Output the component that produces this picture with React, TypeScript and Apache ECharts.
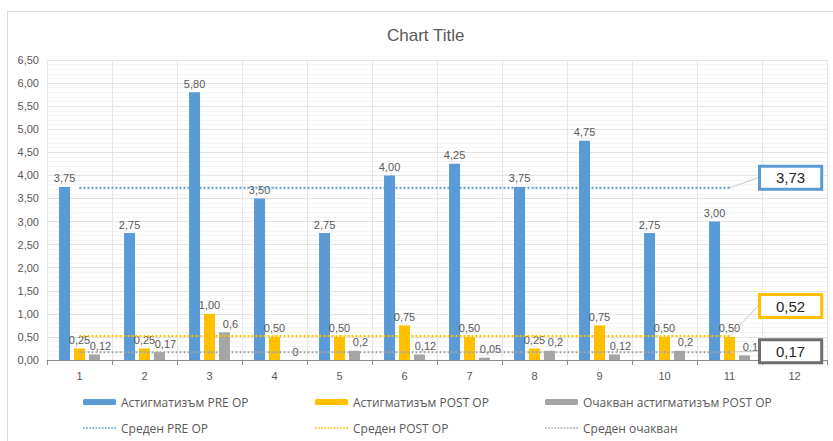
import React, { useEffect, useRef } from "react";
import * as echarts from "echarts";

const categories = ["1", "2", "3", "4", "5", "6", "7", "8", "9", "10", "11", "12"];
const preOp = [3.75, 2.75, 5.8, 3.5, 2.75, 4.0, 4.25, 3.75, 4.75, 2.75, 3.0, null];
const postOp = [0.25, 0.25, 1.0, 0.5, 0.5, 0.75, 0.5, 0.25, 0.75, 0.5, 0.5, null];
const expected = [0.12, 0.17, 0.6, 0, 0.2, 0.12, 0.05, 0.2, 0.12, 0.2, 0.1, null];
const avgPre = [3.73, 3.73, 3.73, 3.73, 3.73, 3.73, 3.73, 3.73, 3.73, 3.73, 3.73, null];
const avgPost = [0.52, 0.52, 0.52, 0.52, 0.52, 0.52, 0.52, 0.52, 0.52, 0.52, 0.52, null];
const avgExpected = [0.17, 0.17, 0.17, 0.17, 0.17, 0.17, 0.17, 0.17, 0.17, 0.17, 0.17, null];

const names = [
  "Астигматизъм PRE OP",
  "Астигматизъм POST OP",
  "Очакван астигматизъм POST OP",
  "Среден PRE OP",
  "Среден POST OP",
  "Среден очакван",
];

const BLUE = "#5b9bd5";
const YELLOW = "#ffc000";
const GRAY = "#a5a5a5";
const TXT = "#595959";
const FONT = "'Liberation Sans', sans-serif";
const LFONT = "'Open Sans', sans-serif";

const comma = (v: number, fixed: boolean) =>
  (fixed ? v.toFixed(2) : String(v)).replace(".", ",");

// dotted legend icon (style only)
let dots = "";
for (let k = 0; k < 11; k++) dots += `M${k * 3},0h1.6v1.6h-1.6z`;
const DOT_ICON = "path://" + dots;

function avgSeries(name: string, data: (number | null)[], color: string, border: string, dy: number) {
  const last = data.reduce((acc: number, v, i) => (v != null ? i : acc), 0);
  return {
    name,
    type: "line",
    symbol: "circle",
    symbolSize: 1,
    showSymbol: true,
    showAllSymbol: true,
    lineStyle: { color, width: 2, type: "dotted" },
    itemStyle: { color },
    z: 5,
    labelLayout: { dy },
    labelLine: { show: true, lineStyle: { color: "#c8c8c8", width: 1 } },
    data: data.map((v, i) =>
      i === last
        ? {
            value: v,
            label: {
              show: true,
              position: "right",
              distance: 31,
              formatter: (p: any) => comma(p.value, true),
              fontSize: 15,
              fontFamily: FONT,
              color: "#262626",
              backgroundColor: "#ffffff",
              borderColor: border,
              borderWidth: 3,
              padding: [3, 15, 2, 15],
            },
          }
        : v
    ),
  };
}

export default function App() {
  const ref = useRef<HTMLDivElement>(null);
  useEffect(() => {
    if (!ref.current) return;
    const chart = echarts.init(ref.current, undefined, { renderer: "svg" });
    const barLabel = (fixed: boolean) => ({
      show: true,
      position: "top",
      distance: 3,
      color: TXT,
      fontSize: 11,
      fontFamily: FONT,
      formatter: (p: any) => (p.value == null ? "" : comma(p.value, fixed)),
    });
    const legendPos = [
      [83, 396],
      [315, 396],
      [545, 396],
      [83, 422],
      [315, 422],
      [545, 422],
    ];
    chart.setOption({
      animation: false,
      title: {
        text: "Chart Title",
        left: 382,
        top: 22,
        textStyle: { fontSize: 17, fontWeight: "normal", color: TXT, fontFamily: FONT },
      },
      legend: names.map((n, i) => ({
        data: i < 3 ? [n] : [{ name: n, icon: DOT_ICON }],
        left: legendPos[i][0],
        top: legendPos[i][1],
        padding: 0,
        itemWidth: 33,
        itemHeight: i < 3 ? 6 : 2,
        itemGap: 3,
        textStyle: { color: TXT, fontSize: 12, fontFamily: LFONT, padding: [0, 0, 0, 0] },
        selectedMode: false,
      })),
      grid: { left: 47, right: 6, top: 60, bottom: 81 },
      xAxis: {
        type: "category",
        data: categories,
        boundaryGap: true,
        axisLine: { lineStyle: { color: "#8c8c8c" } },
        axisTick: { show: true, length: 5, lineStyle: { color: "#8c8c8c" } },
        axisLabel: { color: TXT, fontSize: 11, fontFamily: FONT, margin: 10 },
        splitLine: { show: true, lineStyle: { color: "#e6e6e6" } },
      },
      yAxis: {
        type: "value",
        min: 0,
        max: 6.5,
        interval: 0.5,
        axisLine: { show: false },
        axisTick: { show: false },
        axisLabel: {
          color: TXT,
          fontSize: 11,
          fontFamily: FONT,
          margin: 8,
          formatter: (v: number) => comma(v, true),
        },
        splitLine: { lineStyle: { color: "#e3e3e3" } },
        minorTick: { show: false, splitNumber: 5 },
        minorSplitLine: { show: true, lineStyle: { color: "#f4f4f4" } },
      },
      series: [
        {
          name: names[0],
          type: "bar",
          data: preOp,
          barWidth: 11,
          barGap: "36%",
          itemStyle: { color: BLUE },
          label: barLabel(true),
        },
        {
          name: names[1],
          type: "bar",
          data: postOp,
          barWidth: 11,
          barGap: "36%",
          itemStyle: { color: YELLOW },
          label: barLabel(true),
        },
        {
          name: names[2],
          type: "bar",
          data: expected,
          barWidth: 11,
          barGap: "36%",
          itemStyle: { color: GRAY },
          label: { ...barLabel(false), offset: [6, 0] },
        },
        avgSeries(names[3], avgPre, BLUE, BLUE, -10),
        avgSeries(names[4], avgPost, YELLOW, YELLOW, -30),
        avgSeries(names[5], avgExpected, GRAY, "#6e6e6e", -1),
      ],
    });
    return () => chart.dispose();
  }, []);
  return (
    <div
      style={{
        position: "fixed",
        left: 0,
        top: 0,
        width: 833,
        height: 441,
        background: "#fff",
        overflow: "hidden",
      }}
    >
      <div
        style={{
          position: "absolute",
          left: 7,
          top: 11,
          width: 840,
          height: 440,
          borderLeft: "1px solid #d9d9d9",
          borderTop: "1px solid #d9d9d9",
        }}
      />
      <div ref={ref} style={{ position: "absolute", left: 0, top: 0, width: 833, height: 441 }} />
    </div>
  );
}
